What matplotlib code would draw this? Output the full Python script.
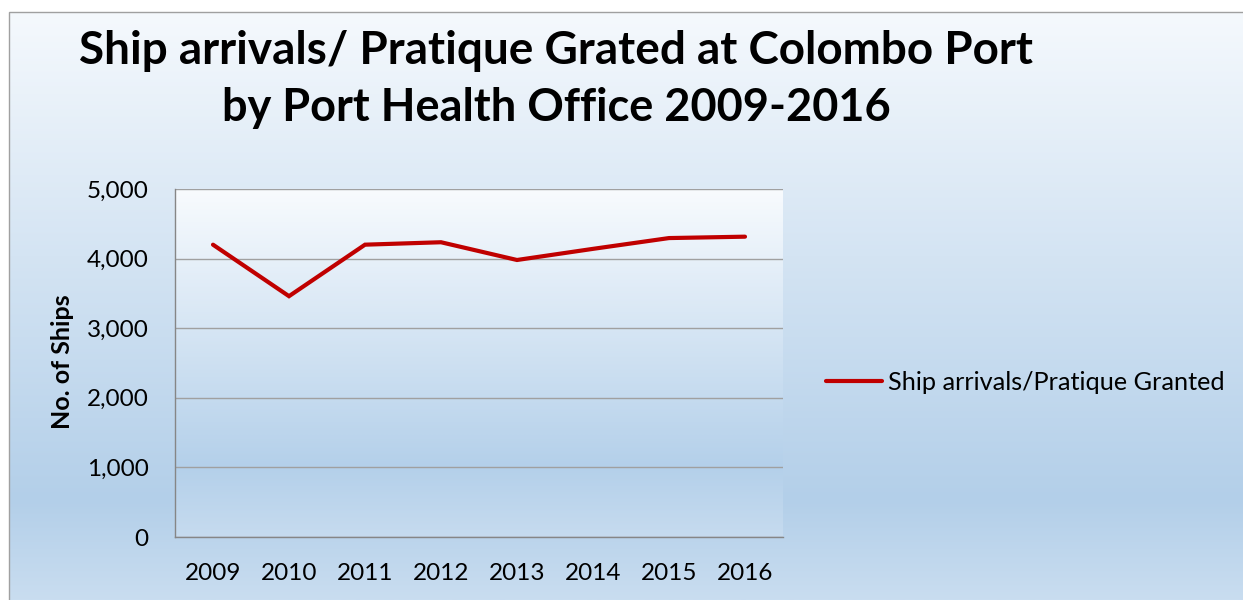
import numpy as np
import matplotlib
matplotlib.use("Agg")
import matplotlib.pyplot as plt
from matplotlib.colors import to_rgb
from matplotlib.patches import Rectangle

# ---- data ----
years = ["2009", "2010", "2011", "2012", "2013", "2014", "2015", "2016"]
ships = [4200, 3460, 4200, 4235, 3980, 4140, 4295, 4315]
yticks = [0, 1000, 2000, 3000, 4000, 5000]
series_name = "Ship arrivals/Pratique Granted"
title_lines = ["Ship arrivals/ Pratique Grated at Colombo Port",
               "by Port Health Office 2009-2016"]
ylabel = "No. of Ships"

plt.rcParams["font.family"] = ["Lato", "DejaVu Sans"]

W, H = 1243, 600
fig = plt.figure(figsize=(W / 100, H / 100), dpi=100)
fig.patch.set_facecolor("white")


def gradient(stops, n=400):
    pos = np.array([s[0] for s in stops])
    cols = np.array([to_rgb(s[1]) for s in stops])
    t = np.linspace(0, 1, n)
    img = np.stack([np.interp(t, pos, cols[:, c]) for c in range(3)], axis=1)
    return img[:, None, :]


# chart-area background
bg = fig.add_axes([9 / W, 0, 1 - 9 / W, 588 / H], zorder=-10)
bg.imshow(gradient([(0, "#f5f9fd"), (0.83, "#b3cfe9"), (1.0, "#c9ddf0")]),
          aspect="auto", extent=[0, 1, 0, 1], interpolation="bilinear")
bg.set_xlim(0, 1)
bg.set_ylim(0, 1)
bg.axis("off")
fig.add_artist(Rectangle((9 / W, -0.1), 2, (588 / H) + 0.1, transform=fig.transFigure,
                         fill=False, edgecolor="#a0a0a0", linewidth=1.0, zorder=-5))

# plot area
left, right, top, bottom = 175, 783, 189, 537
ax = fig.add_axes([left / W, 1 - bottom / H, (right - left) / W, (bottom - top) / H])
ax.set_facecolor("none")
ax.imshow(gradient([(0, "#f8fbfe"), (0.8, "#b4d0ea"), (1.0, "#c6dbef")]),
          aspect="auto", extent=[0, 1, 0, 1], transform=ax.transAxes,
          interpolation="bilinear", zorder=0)

x = np.arange(len(years))
ax.plot(x, ships, color="#c00000", linewidth=3.0, solid_joinstyle="miter",
        solid_capstyle="round", label=series_name, zorder=3)

ax.set_xlim(-0.5, len(years) - 0.5)
ax.set_ylim(0, 5000)
ax.set_yticks(yticks)
ax.set_yticklabels([f"{v:,}" for v in yticks])
ax.set_xticks(x)
ax.set_xticklabels(years)
ax.grid(axis="y", color="#a0a0a0", linewidth=1.0, zorder=1)
ax.set_axisbelow(True)
ax.tick_params(axis="both", length=0, labelsize=17.5, colors="black")
ax.tick_params(axis="x", pad=19)
ax.tick_params(axis="y", pad=19)
for s in ["top", "right"]:
    ax.spines[s].set_visible(False)
for s in ["left", "bottom"]:
    ax.spines[s].set_color("#868686")
    ax.spines[s].set_linewidth(1.0)

fig.text(63 / W, 1 - 362 / H, ylabel, rotation=90, ha="center", va="center",
         fontsize=18, fontweight="bold")

fig.text(556 / W, 1 - 64 / H, title_lines[0], ha="center", va="baseline",
         fontsize=33, fontweight="bold")
fig.text(556 / W, 1 - 121 / H, title_lines[1], ha="center", va="baseline",
         fontsize=32.5, fontweight="bold")

leg = ax.legend(loc="center left", bbox_to_anchor=(826 / W, 1 - 382 / H),
                bbox_transform=fig.transFigure, frameon=False, fontsize=18.2,
                handlelength=2.2, handletextpad=0.24, borderpad=0, borderaxespad=0)

fig.savefig("out.png", dpi=100)
